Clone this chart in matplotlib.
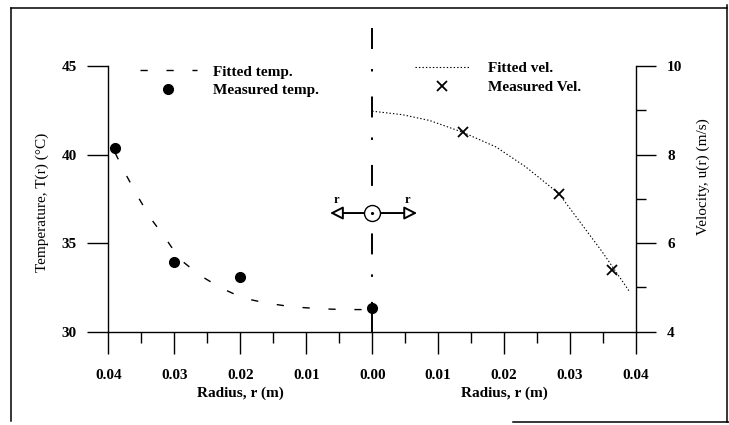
import matplotlib
matplotlib.use("Agg")
import matplotlib.pyplot as plt
from matplotlib.lines import Line2D
from matplotlib.ticker import FuncFormatter, MultipleLocator

plt.rcParams['font.family'] = ['Liberation Serif', 'DejaVu Serif']
plt.rcParams['font.weight'] = 'bold'
plt.rcParams['font.size'] = 11
plt.rcParams['lines.scale_dashes'] = False

# measured / fitted temperature (left half, radius measured to the left)
r_temp = [0.039, 0.030, 0.020, 0.000]
T_temp = [40.35, 33.95, 33.1, 31.32]
r_fit_t = [0.0390, 0.0374, 0.0355, 0.0336, 0.0314, 0.0292, 0.0262, 0.0231,
           0.0196, 0.0158, 0.0120, 0.0080, 0.0045, 0.0]
T_fit = [40.1, 38.9, 37.6, 36.4, 35.3, 34.1, 33.2, 32.5,
         31.9, 31.6, 31.4, 31.3, 31.25, 31.25]

# measured / fitted velocity (right half)
r_vel = [0.0138, 0.0283, 0.0364]
u_vel = [8.51, 7.12, 5.40]
r_fit_u = [0.0, 0.0046, 0.0087, 0.0138, 0.0188, 0.0233, 0.0283, 0.0319, 0.0349, 0.0390]
u_fit = [8.98, 8.90, 8.77, 8.50, 8.17, 7.72, 7.12, 6.40, 5.80, 4.91]

fig = plt.figure(figsize=(7.29, 4.25), dpi=100)
ax = fig.add_axes([0.1488, 0.2195, 0.7236, 0.6252])
ax2 = ax.twinx()

# outer frame of the scanned figure
fl = dict(color='black', lw=1.1)
fig.add_artist(Line2D([0.0151, 0.0151], [0.981, 0.0094], **fl))
fig.add_artist(Line2D([0.0151, 0.997], [0.981, 0.981], **fl))
fig.add_artist(Line2D([0.9973, 0.9973], [0.988, 0.007], **fl))
fig.add_artist(Line2D([0.7037, 1.0], [0.0078, 0.0078], **fl))

# temperature: plotted at x = -r
ft, = ax.plot([-r for r in r_fit_t], T_fit, color='black', lw=1.0,
              linestyle=(0, (5.2, 13.5)), label='Fitted temp.')
mt, = ax.plot([-r for r in r_temp], T_temp, 'o', color='black', ms=7,
              label='Measured temp.', clip_on=False, zorder=5)

# velocity
fu, = ax2.plot(r_fit_u, u_fit, color='black', lw=0.8,
               linestyle=(0, (1.0, 1.5)), label='Fitted vel.')
mu, = ax2.plot(r_vel, u_vel, 'x', color='black', ms=7, mew=1.3,
               label='Measured Vel.')

ax.set_xlim(-0.04, 0.04)
ax.set_ylim(30, 45)
ax2.set_ylim(4, 10)

# centre line (dash-dot) and stem to the axis
ax.plot([0, 0], [47.15, 31.6], color='black', lw=1.4, clip_on=False,
        linestyle=(0, (15.1, 14.4, 1.8, 18.0)))
ax.plot([0, 0], [30, 31.3], color='black', lw=1.4)

# direction symbol
yc = 36.7
for tip, start in ((-0.0064, -0.0012), (0.0068, 0.0012)):
    ax.annotate('', xy=(tip, yc), xytext=(start, yc),
                arrowprops=dict(arrowstyle='-|>,head_length=0.55,head_width=0.28',
                                fc='white', ec='black', lw=1.4, mutation_scale=14,
                                shrinkA=0, shrinkB=0))
ax.plot([0], [yc], 'o', ms=11.5, mfc='white', mec='black', mew=1.0, zorder=6)
ax.plot([0], [yc], '.', ms=2.5, color='black', zorder=7)
ax.text(-0.0055, 37.45, 'r', fontsize=9, ha='center', va='center')
ax.text(0.0054, 37.45, 'r', fontsize=9, ha='center', va='center')

# spines
for s in ['top', 'right']:
    ax.spines[s].set_visible(False)
for s in ['top', 'left', 'bottom']:
    ax2.spines[s].set_visible(False)
for a in (ax, ax2):
    for s in a.spines.values():
        s.set_linewidth(1.0)

# ticks
ax.xaxis.set_major_locator(MultipleLocator(0.01))
ax.xaxis.set_minor_locator(MultipleLocator(0.005))
ax.xaxis.set_major_formatter(FuncFormatter(lambda v, p: f"{abs(v):.2f}"))
ax.tick_params(axis='x', which='major', direction='out', length=16, width=1.0, pad=11)
ax.tick_params(axis='x', which='minor', direction='out', length=8, width=1.0)
ax.set_yticks([30, 35, 40, 45])
ax.tick_params(axis='y', which='major', direction='out', length=15, width=1.0, pad=8)
ax2.set_yticks([4, 6, 8, 10])
ax2.yaxis.set_minor_locator(MultipleLocator(1))
ax2.tick_params(axis='y', which='major', direction='out', length=14.5, width=1.0, pad=8)
ax2.tick_params(axis='y', which='minor', direction='out', length=7, width=1.0)

# axis labels
ax.set_ylabel('Temperature, T(r) (°C)')
ax.yaxis.set_label_coords(-0.1128, 0.487)
ax2.set_ylabel('Velocity, u(r) (m/s)')
ax2.yaxis.set_label_coords(1.1156, 0.582)
ax.text(0.25, -0.232, 'Radius, r (m)', transform=ax.transAxes, ha='center', va='center')
ax.text(0.75, -0.232, 'Radius, r (m)', transform=ax.transAxes, ha='center', va='center')

# legends
ax.legend(handles=[ft, mt], loc='upper left', bbox_to_anchor=(0.0597, 1.0045),
          frameon=False, borderpad=0, borderaxespad=0, handlelength=3.73,
          handletextpad=1.05, labelspacing=0.31, numpoints=1)
ax2.legend(handles=[fu, mu], loc='upper left', bbox_to_anchor=(0.581, 1.018),
           frameon=False, borderpad=0, borderaxespad=0, handlelength=3.6,
           handletextpad=1.18, labelspacing=0.35, numpoints=1)

fig.savefig('out.png', dpi=100)
